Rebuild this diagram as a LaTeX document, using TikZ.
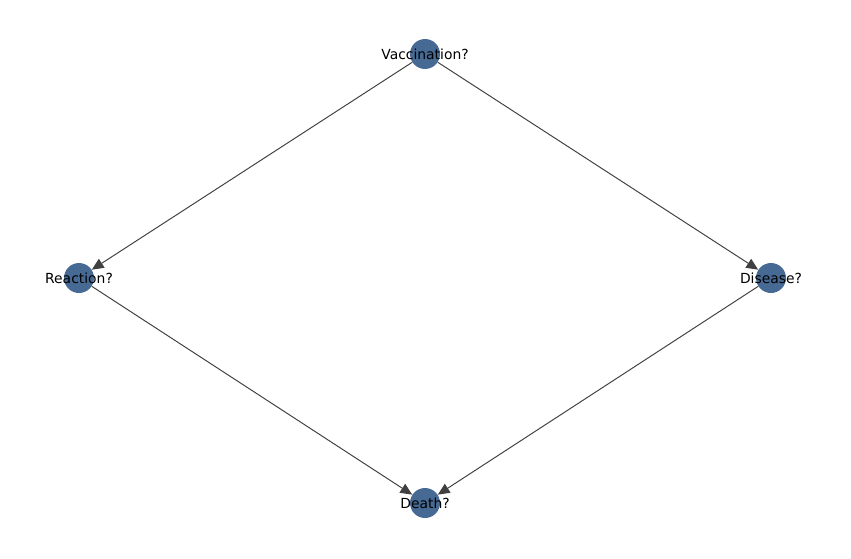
\documentclass[tikz,border=0pt]{standalone}
\usepackage{fontspec}
\setmainfont{DejaVu Sans}
\usetikzlibrary{arrows.meta}
\definecolor{noeud}{RGB}{70,106,148}

\begin{document}
\begin{tikzpicture}[x=0.72pt,y=-0.72pt,
    sommet/.style={circle,fill=noeud,minimum size=30*0.72pt,inner sep=0pt},
    etiquette/.style={font=\fontsize{10}{12}\selectfont,inner sep=0pt},
    lien/.style={draw=black!75,line width=0.7pt,-{Triangle[length=8.5pt,width=7.5pt]}}]
            \useasboundingbox (0,0) rectangle (851,558);
            \node[sommet] (vac) at (425,54) {};
            \node[sommet] (rea) at (79,278) {};
            \node[sommet] (dis) at (771,278) {};
            \node[sommet] (dea) at (425,503) {};

            \foreach \a/\b in {vac/rea,vac/dis,rea/dea,dis/dea} {
                \draw[lien] (\a) -- (\b);
            }
            \foreach \p/\t in {vac/Vaccination?,rea/Reaction?,dis/Disease?,dea/Death?} {
                \node[etiquette] (\p-t) at (\p) {\t};
            }
        \end{tikzpicture}
\end{document}
